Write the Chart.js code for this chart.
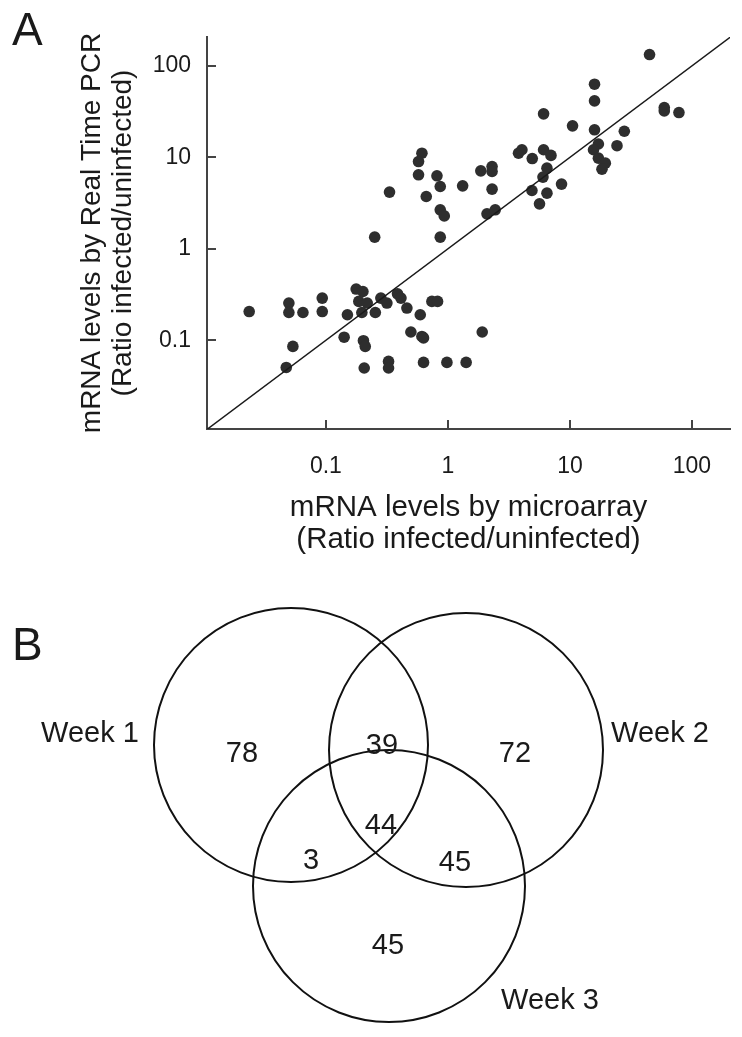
<!DOCTYPE html>
<html>
<head>
<meta charset="utf-8">
<script src="https://cdn.jsdelivr.net/npm/chart.js@4.4.1/dist/chart.umd.min.js"></script>
<style>
  html, body { margin: 0; padding: 0; background: #fff; }
  #wrap { position: relative; width: 742px; height: 1037px; }
  canvas { position: absolute; left: 0; }
  #scatterCanvas { top: 0; }
  #vennCanvas { top: 560px; }
</style>
</head>
<body>
<div id="wrap">
  <canvas id="scatterCanvas" width="742" height="560"></canvas>
  <canvas id="vennCanvas" width="742" height="477"></canvas>
</div>
<script>
// ---- Panel A: ratio infected/uninfected, microarray vs real time PCR ----
const microarrayRatio = [
  0.0235, 0.0497, 0.0497, 0.0648, 0.0933, 0.0933, 0.0536, 0.0473, 0.150, 0.141,
  0.177, 0.201, 0.186, 0.197, 0.218, 0.203, 0.210, 0.206, 0.254, 0.282,
  0.316, 0.386, 0.412, 0.461, 0.593, 0.739, 0.822, 0.497, 0.612, 0.631,
  0.326, 0.326, 0.631, 0.981, 1.41, 1.91,
  0.612, 0.574, 0.574, 0.332, 0.813, 0.865, 0.664, 0.865, 0.933, 1.32,
  1.86, 2.30, 2.30, 2.30, 2.09, 2.44, 0.251, 0.865,
  6.08, 10.5, 3.79, 4.04, 4.91, 6.08, 6.99, 6.48, 6.01, 8.53,
  4.88, 6.48, 5.63,
  44.9, 15.9, 15.9, 59.3, 59.3, 78.2, 15.9, 27.9, 17.1, 15.6,
  24.3, 17.1, 19.5, 18.3
];
const pcrRatio = [
  0.206, 0.255, 0.201, 0.201, 0.289, 0.206, 0.0856, 0.0504, 0.190, 0.108,
  0.363, 0.341, 0.266, 0.201, 0.255, 0.0988, 0.0856, 0.0497, 0.201, 0.289,
  0.255, 0.322, 0.289, 0.225, 0.190, 0.266, 0.266, 0.123, 0.110, 0.106,
  0.0587, 0.0497, 0.0572, 0.0572, 0.0572, 0.123,
  11.1, 9.0, 6.44, 4.17, 6.28, 4.80, 3.73, 2.67, 2.29, 4.88,
  7.12, 7.93, 7.00, 4.49, 2.41, 2.67, 1.34, 1.34,
  29.9, 22.1, 11.1, 12.1, 9.70, 12.1, 10.5, 7.62, 6.08, 5.10,
  4.34, 4.06, 3.10,
  133, 63.1, 41.4, 35.0, 32.2, 30.9, 20.0, 19.3, 14.0, 12.1,
  13.4, 9.80, 8.64, 7.43
];
const identityLine = [0.0106, 207];
const tickValues = [0.1, 1, 10, 100];
const tickLabels = ['0.1', '1', '10', '100'];
const xTitle = ['mRNA levels by microarray', '(Ratio infected/uninfected)'];
const yTitle = ['mRNA levels by Real Time PCR', '(Ratio infected/uninfected)'];

// ---- Panel B: genes per week ----
const weekNames = ['Week 1', 'Week 2', 'Week 3'];
const regionNames = ['Week 1 only', 'Week 2 only', 'Week 3 only', 'Week 1+2', 'Week 1+3', 'Week 2+3', 'All three'];
const regionCounts = [78, 72, 45, 39, 3, 45, 44];

// layout of the diagram (page pixels)
const vennCircles = [
  { cx: 291, cy: 745, r: 137 },
  { cx: 466, cy: 750, r: 137 },
  { cx: 389, cy: 886, r: 136 }
];
const weekLabelPos = [[90, 734], [660, 734], [550, 1001]];
const regionPos = [[242, 754], [515, 754], [388, 946], [382, 746], [311, 861], [455, 863], [381, 826]];

const fontFamily = '"Liberation Sans", Arial, Helvetica, sans-serif';
const axisColor = '#444';
const textColor = '#1a1a1a';
Chart.defaults.font.family = fontFamily;
Chart.defaults.color = textColor;

const panelLetter = {
  id: 'panelLetter',
  afterDraw(chart, args, opts) {
    const ctx = chart.ctx;
    ctx.save();
    ctx.font = '46px ' + fontFamily;
    ctx.fillStyle = textColor;
    ctx.textBaseline = 'alphabetic';
    ctx.fillText(opts.text, opts.x, opts.y);
    ctx.restore();
  }
};

const inwardTicks = {
  id: 'inwardTicks',
  afterDatasetsDraw(chart) {
    const { ctx, chartArea, scales } = chart;
    ctx.save();
    ctx.strokeStyle = axisColor;
    ctx.lineWidth = 2;
    ctx.beginPath();
    scales.x.ticks.forEach(t => {
      const px = Math.round(scales.x.getPixelForValue(t.value));
      ctx.moveTo(px, chartArea.bottom);
      ctx.lineTo(px, chartArea.bottom - 9);
    });
    scales.y.ticks.forEach(t => {
      const py = Math.round(scales.y.getPixelForValue(t.value));
      ctx.moveTo(chartArea.left, py);
      ctx.lineTo(chartArea.left + 9, py);
    });
    ctx.stroke();
    ctx.restore();
  }
};

const fixedTicks = scale => {
  scale.ticks = tickValues.map(v => ({ value: v }));
};

new Chart(document.getElementById('scatterCanvas'), {
  type: 'scatter',
  data: {
    datasets: [{
      type: 'line',
      data: identityLine.map(v => ({ x: v, y: v })),
      borderColor: '#1a1a1a',
      borderWidth: 1.5,
      pointRadius: 0,
      fill: false
    }, {
      data: microarrayRatio.map((v, i) => ({ x: v, y: pcrRatio[i] })),
      backgroundColor: '#2e2e2e',
      borderWidth: 0,
      pointRadius: 5.8
    }]
  },
  options: {
    responsive: false,
    devicePixelRatio: 1,
    animation: false,
    events: [],
    layout: { autoPadding: false, padding: { top: 37, right: 12, left: 0, bottom: 0 } },
    plugins: {
      legend: { display: false },
      tooltip: { enabled: false },
      panelLetter: { text: 'A', x: 12, y: 45 }
    },
    scales: {
      x: {
        type: 'logarithmic',
        min: 0.0106,
        max: 205,
        afterBuildTicks: fixedTicks,
        afterFit: s => { s.height = 131; },
        grid: { display: false, drawTicks: false, tickLength: 0 },
        border: { display: true, color: axisColor, width: 2 },
        ticks: {
          callback: (v, i) => tickLabels[i],
          font: { size: 23 },
          color: textColor,
          padding: 24,
          maxRotation: 0
        },
        title: {
          display: true,
          text: xTitle,
          font: { size: 29.5, lineHeight: 1.09 },
          color: textColor,
          padding: { top: 0, bottom: 4 }
        }
      },
      y: {
        type: 'logarithmic',
        min: 0.0107,
        max: 207,
        afterBuildTicks: fixedTicks,
        afterFit: s => { s.width = 207; },
        grid: { display: false, drawTicks: false, tickLength: 0 },
        border: { display: true, color: axisColor, width: 2 },
        ticks: {
          callback: (v, i) => tickLabels[i],
          font: { size: 23 },
          color: textColor,
          padding: 16
        },
        title: {
          display: true,
          text: yTitle,
          font: { size: 28, lineHeight: 1.1 },
          color: textColor,
          padding: { top: 77, bottom: 0 }
        }
      }
    }
  },
  plugins: [inwardTicks, panelLetter]
});

const vennText = {
  id: 'vennText',
  afterDatasetsDraw(chart) {
    const { ctx, scales: { x, y } } = chart;
    ctx.save();
    ctx.font = '29px ' + fontFamily;
    ctx.fillStyle = textColor;
    ctx.textAlign = 'center';
    ctx.textBaseline = 'middle';
    regionCounts.forEach((n, i) => {
      ctx.fillText(String(n), x.getPixelForValue(regionPos[i][0]), y.getPixelForValue(regionPos[i][1]));
    });
    weekNames.forEach((name, i) => {
      ctx.fillText(name, x.getPixelForValue(weekLabelPos[i][0]), y.getPixelForValue(weekLabelPos[i][1]));
    });
    ctx.restore();
  }
};

new Chart(document.getElementById('vennCanvas'), {
  type: 'scatter',
  data: {
    datasets: [{
      label: 'weeks',
      data: vennCircles.map(c => ({ x: c.cx, y: c.cy })),
      pointRadius: ctx => {
        const c = vennCircles[ctx.dataIndex];
        const xs = ctx.chart.scales.x;
        return xs.getPixelForValue(c.cx + c.r) - xs.getPixelForValue(c.cx);
      },
      backgroundColor: 'rgba(0,0,0,0)',
      borderColor: '#111',
      borderWidth: 2,
      clip: false
    }]
  },
  options: {
    responsive: false,
    devicePixelRatio: 1,
    animation: false,
    events: [],
    layout: { autoPadding: false, padding: 0 },
    plugins: {
      legend: { display: false },
      tooltip: { enabled: false },
      panelLetter: { text: 'B', x: 12, y: 100 }
    },
    scales: {
      x: { type: 'linear', min: 0, max: 742, display: false },
      y: { type: 'linear', min: 560, max: 1037, reverse: true, display: false }
    }
  },
  plugins: [vennText, panelLetter]
});
</script>
</body>
</html>
